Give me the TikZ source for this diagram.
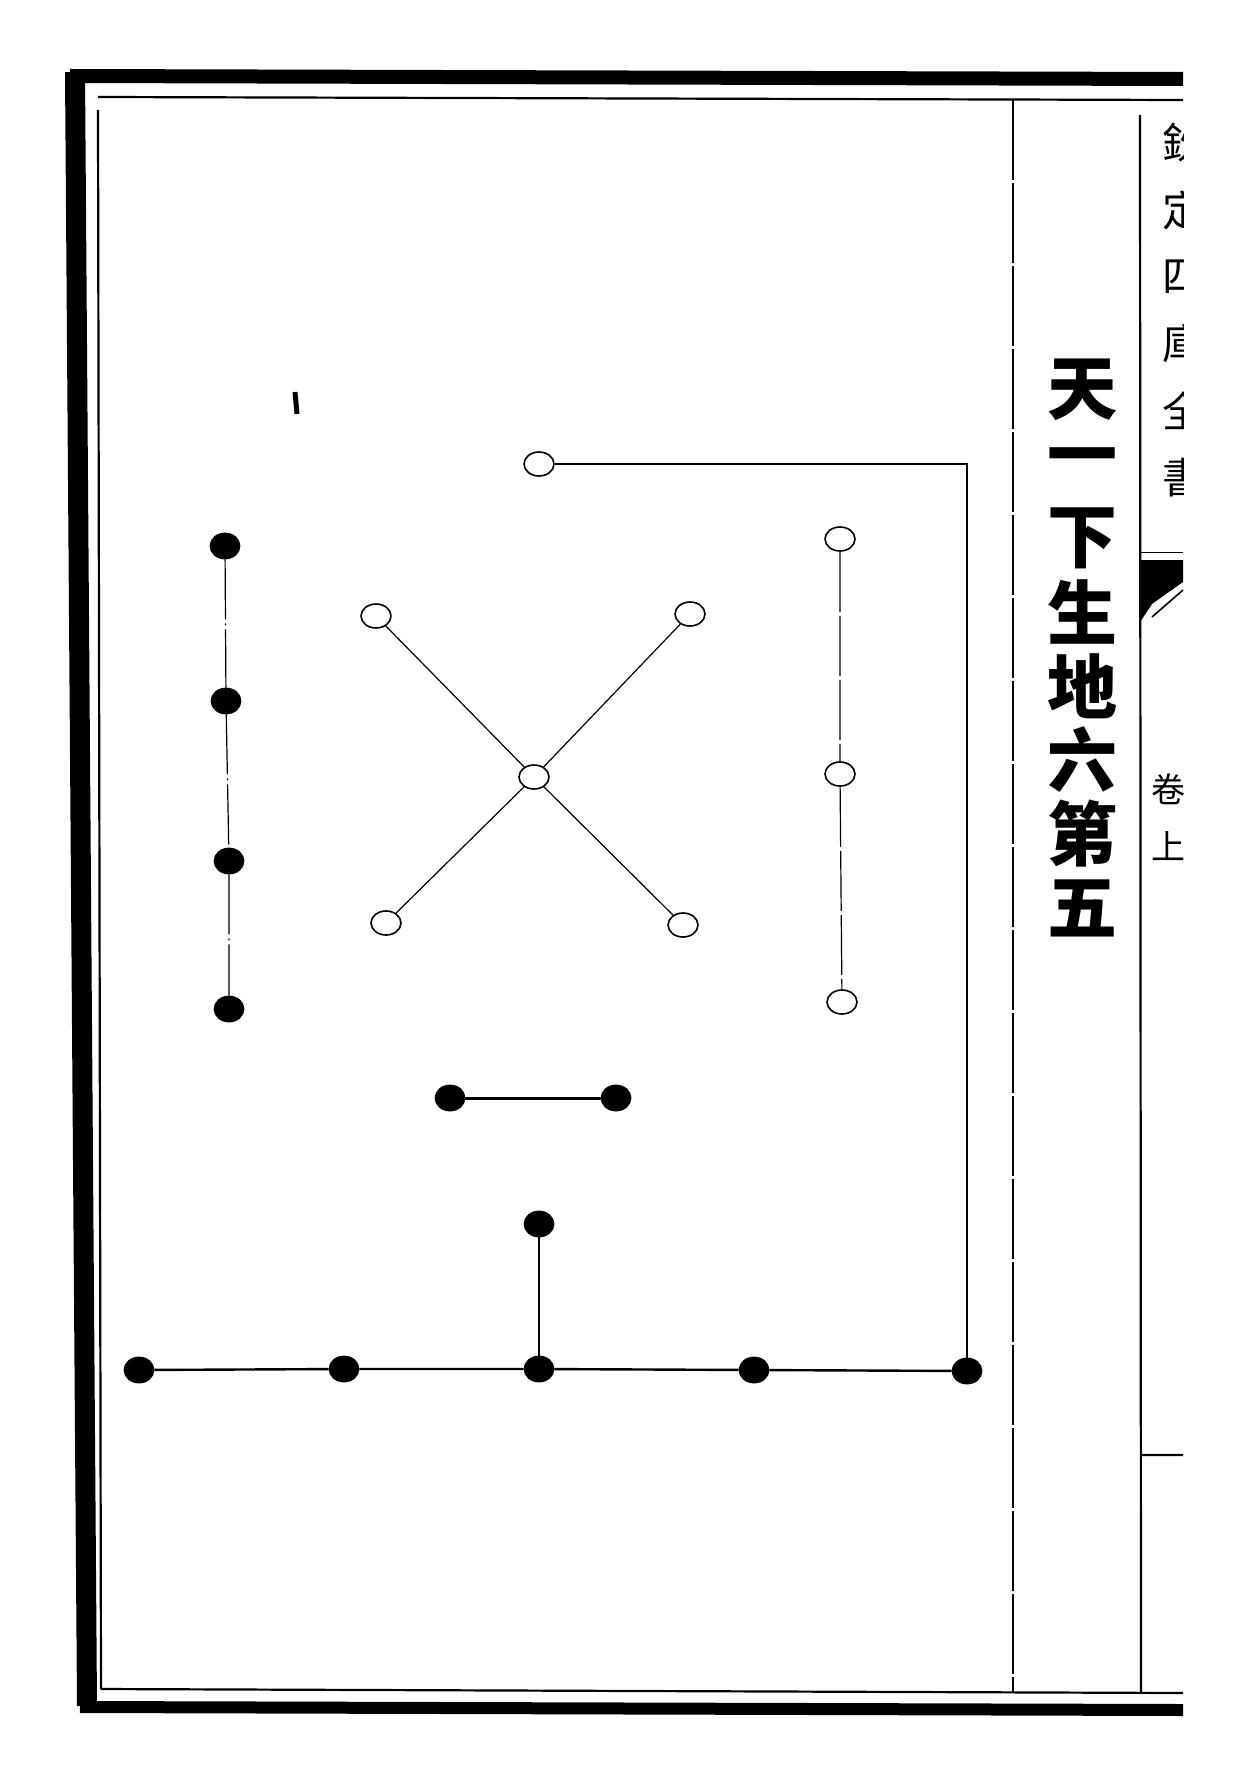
\documentclass[tikz,border=0pt]{standalone}
\usepackage{fontspec}
\newfontfamily\cjk{Noto Sans CJK SC}
\usetikzlibrary{shapes,positioning}

\begin{document}
\begin{tikzpicture}[x=0.5pt,y=-0.5pt,
  yin/.style={ellipse,fill=black,draw=black,minimum width=15pt,minimum height=13pt,inner sep=0pt},
  yang/.style={ellipse,fill=white,draw=black,line width=0.8pt,minimum width=15pt,minimum height=12pt,inner sep=0pt},
  link/.style={line width=0.6pt},
  bar/.style={line width=1.2pt},
  rule/.style={line width=1.1pt}]
\useasboundingbox (0,0) rectangle (1248,1781);
\draw[line width=7pt] (70,76)--(1183,79);
\draw[line width=10pt] (75,72)--(87,1706);
\draw[line width=6pt] (80,1707)--(1183,1710);
\draw[rule] (98,97)--(1183,100) (98,110)--(101,1689) (101,1689)--(1183,1693);
\draw[rule,dash pattern=on 40pt off 1.5pt] (1013,100)--(1013,1692);
\draw[rule] (1140,115)--(1141,1692) (1141,1455)--(1183,1455);
\draw (1140,552)--(1183,552);
\fill (1140,560)--(1183,560)--(1183,582)--(1152,604)--(1140,622)--cycle;
\draw[line width=0.8pt] (1152,617)--(1183,590);
\draw[line width=2.5pt] (295,392)--(297,414);
\begin{scope}
\clip (1142,100) rectangle (1183,1700);
\foreach \c [count=\i] in {欽,定,四,庫,全,書}
  \node[font=\cjk\fontsize{21}{21}\selectfont] (h\i) at (1183,{143+67*(\i-1)}) {\c};
\end{scope}
\node[font=\cjk\fontsize{17}{17}\selectfont] (v1) at (1168,789) {卷};
\node[font=\cjk\fontsize{17}{17}\selectfont] (v2) at (1168,846) {上};
\foreach \c [count=\i] in {天,一,下,生,地,六,第,五}
  \node[font=\cjk\bfseries\fontsize{35}{35}\selectfont,inner sep=0pt] (t\i) at (1082,{390+74*(\i-1)}) {\c};
\node[yang] (o0) at (539,464) {};
\node[yin] (b1) at (225,546) {};
\node[yin] (b2) at (226,701) {};
\node[yin] (b3) at (229,861) {};
\node[yin] (b4) at (229,1009) {};
\node[yang] (x1) at (376,616) {};
\node[yang] (x2) at (690,614) {};
\node[yang] (x4) at (386,923) {};
\node[yang] (x5) at (683,925) {};
\node[yang] (xc) at (534,777) {};
\node[yang] (w1) at (840,539) {};
\node[yang] (w2) at (840,774) {};
\node[yang] (w3) at (842,1002) {};
\node[yin] (p1) at (450,1098) {};
\node[yin] (p2) at (616,1098) {};
\node[yin] (s) at (539,1224) {};
\node[yin] (r1) at (139,1370) {};
\node[yin] (r2) at (344,1369) {};
\node[yin] (r3) at (539,1369) {};
\node[yin] (r4) at (754,1370) {};
\node[yin] (r5) at (967,1371) {};
\draw[link,dash pattern=on 30pt off 2pt on 1pt off 2pt] (b1)--(b2)--(b3)--(b4);
\draw[link] (x1)--(xc)--(x5) (x2)--(xc)--(x4);
\draw[link,dash pattern=on 30pt off 2pt] (w1)--(w2)--(w3);
\draw[link] (o0)-|(r5);
\draw[line width=1.5pt] (p1)--(p2);
\draw[bar] (s)--(r3);
\draw[bar] (r1)--(r2)--(r3)--(r4)--(r5);
\end{tikzpicture}
\end{document}
